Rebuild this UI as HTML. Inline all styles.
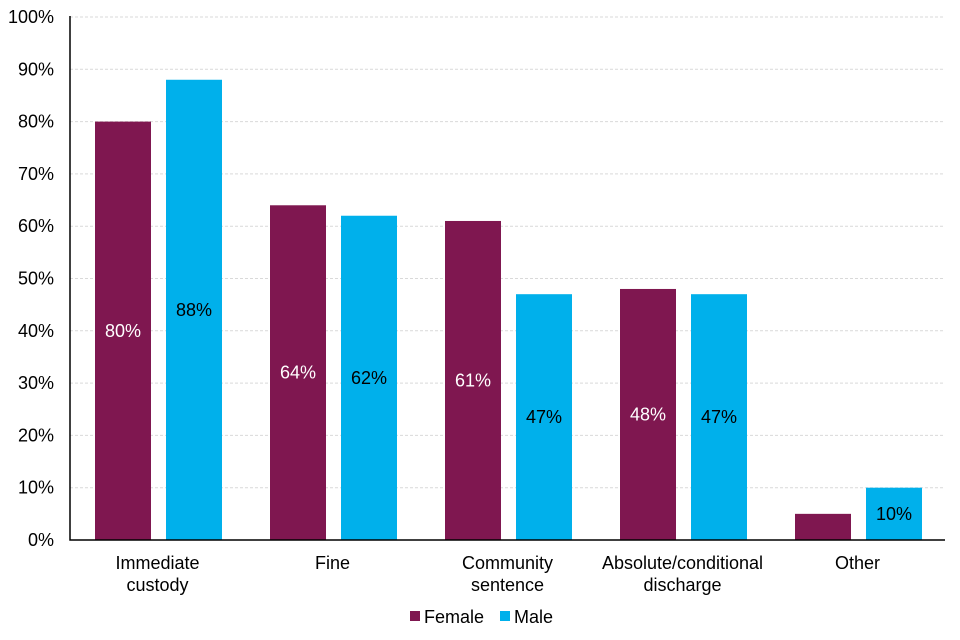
<!DOCTYPE html>
<html><head><meta charset="utf-8"><style>
body{margin:0;background:#fff;}
svg{display:block;font-family:"Liberation Sans",Arial,sans-serif;}
</style></head><body>
<svg id="chart" width="960" height="640"></svg>
<script>
const categories=[["Immediate","custody"],["Fine"],["Community","sentence"],["Absolute/conditional","discharge"],["Other"]];
const femaleValues=[80,64,61,48,5];
const maleValues=[88,62,47,47,10];
const femaleLabels=["80%","64%","61%","48%",""];
const maleLabels=["88%","62%","47%","47%","10%"];
const yTicks=[0,10,20,30,40,50,60,70,80,90,100];
const NS="http://www.w3.org/2000/svg";
const svg=document.getElementById('chart');
const x0=70,x1=945,yBase=540,yTop=17;
const FS=18;
const y=v=>yBase-(v/100)*(yBase-yTop);
const band=(x1-x0)/categories.length;
const cx=i=>x0+band*(i+0.5);
function mk(t,a){const e=document.createElementNS(NS,t);for(const k in a)e.setAttribute(k,a[k]);svg.appendChild(e);return e;}
yTicks.forEach(v=>{
 if(v>0){const g=mk('line',{x1:x0,x2:x1,y1:y(v),y2:y(v),stroke:'#d9d9d9','stroke-dasharray':'3,2'});
 
 }
 const t=mk('text',{x:54,y:y(v)+6,'text-anchor':'end','font-size':FS,fill:'#000'});t.textContent=v+'%';
 
 
});
categories.forEach((c,i)=>{
 const fx=cx(i)-62.5, mx=cx(i)+8.5, w=56;
 const fb=mk('rect',{x:fx,y:y(femaleValues[i]),width:w,height:yBase-y(femaleValues[i]),fill:'#7f1750'});
 
 
 const mb=mk('rect',{x:mx,y:y(maleValues[i]),width:w,height:yBase-y(maleValues[i]),fill:'#00b0eb'});
 
 
 if(femaleLabels[i]){const t=mk('text',{x:fx+w/2,y:(y(femaleValues[i])+yBase)/2+6,'text-anchor':'middle','font-size':FS,fill:'#fff'});t.textContent=femaleLabels[i];
 
 }
 if(maleLabels[i]){const t=mk('text',{x:mx+w/2,y:(y(maleValues[i])+yBase)/2+6,'text-anchor':'middle','font-size':FS,fill:'#000'});t.textContent=maleLabels[i];
 
 }
 c.forEach((ln,j)=>{const t=mk('text',{x:cx(i),y:569+j*22,'text-anchor':'middle','font-size':FS,fill:'#000'});t.textContent=ln;
 
 });
});
const ax=mk('path',{d:`M${x0},${yTop-1}V${yBase}H${x1}`,stroke:'#000','stroke-width':1.5,fill:'none'});


const l1=mk('rect',{x:410,y:611,width:10,height:10,fill:'#7f1750'});


const lt1=mk('text',{x:424,y:623,'font-size':FS});lt1.textContent='Female';


const l2=mk('rect',{x:500,y:611,width:10,height:10,fill:'#00b0eb'});


const lt2=mk('text',{x:514,y:623,'font-size':FS});lt2.textContent='Male';


</script>
</body></html>
